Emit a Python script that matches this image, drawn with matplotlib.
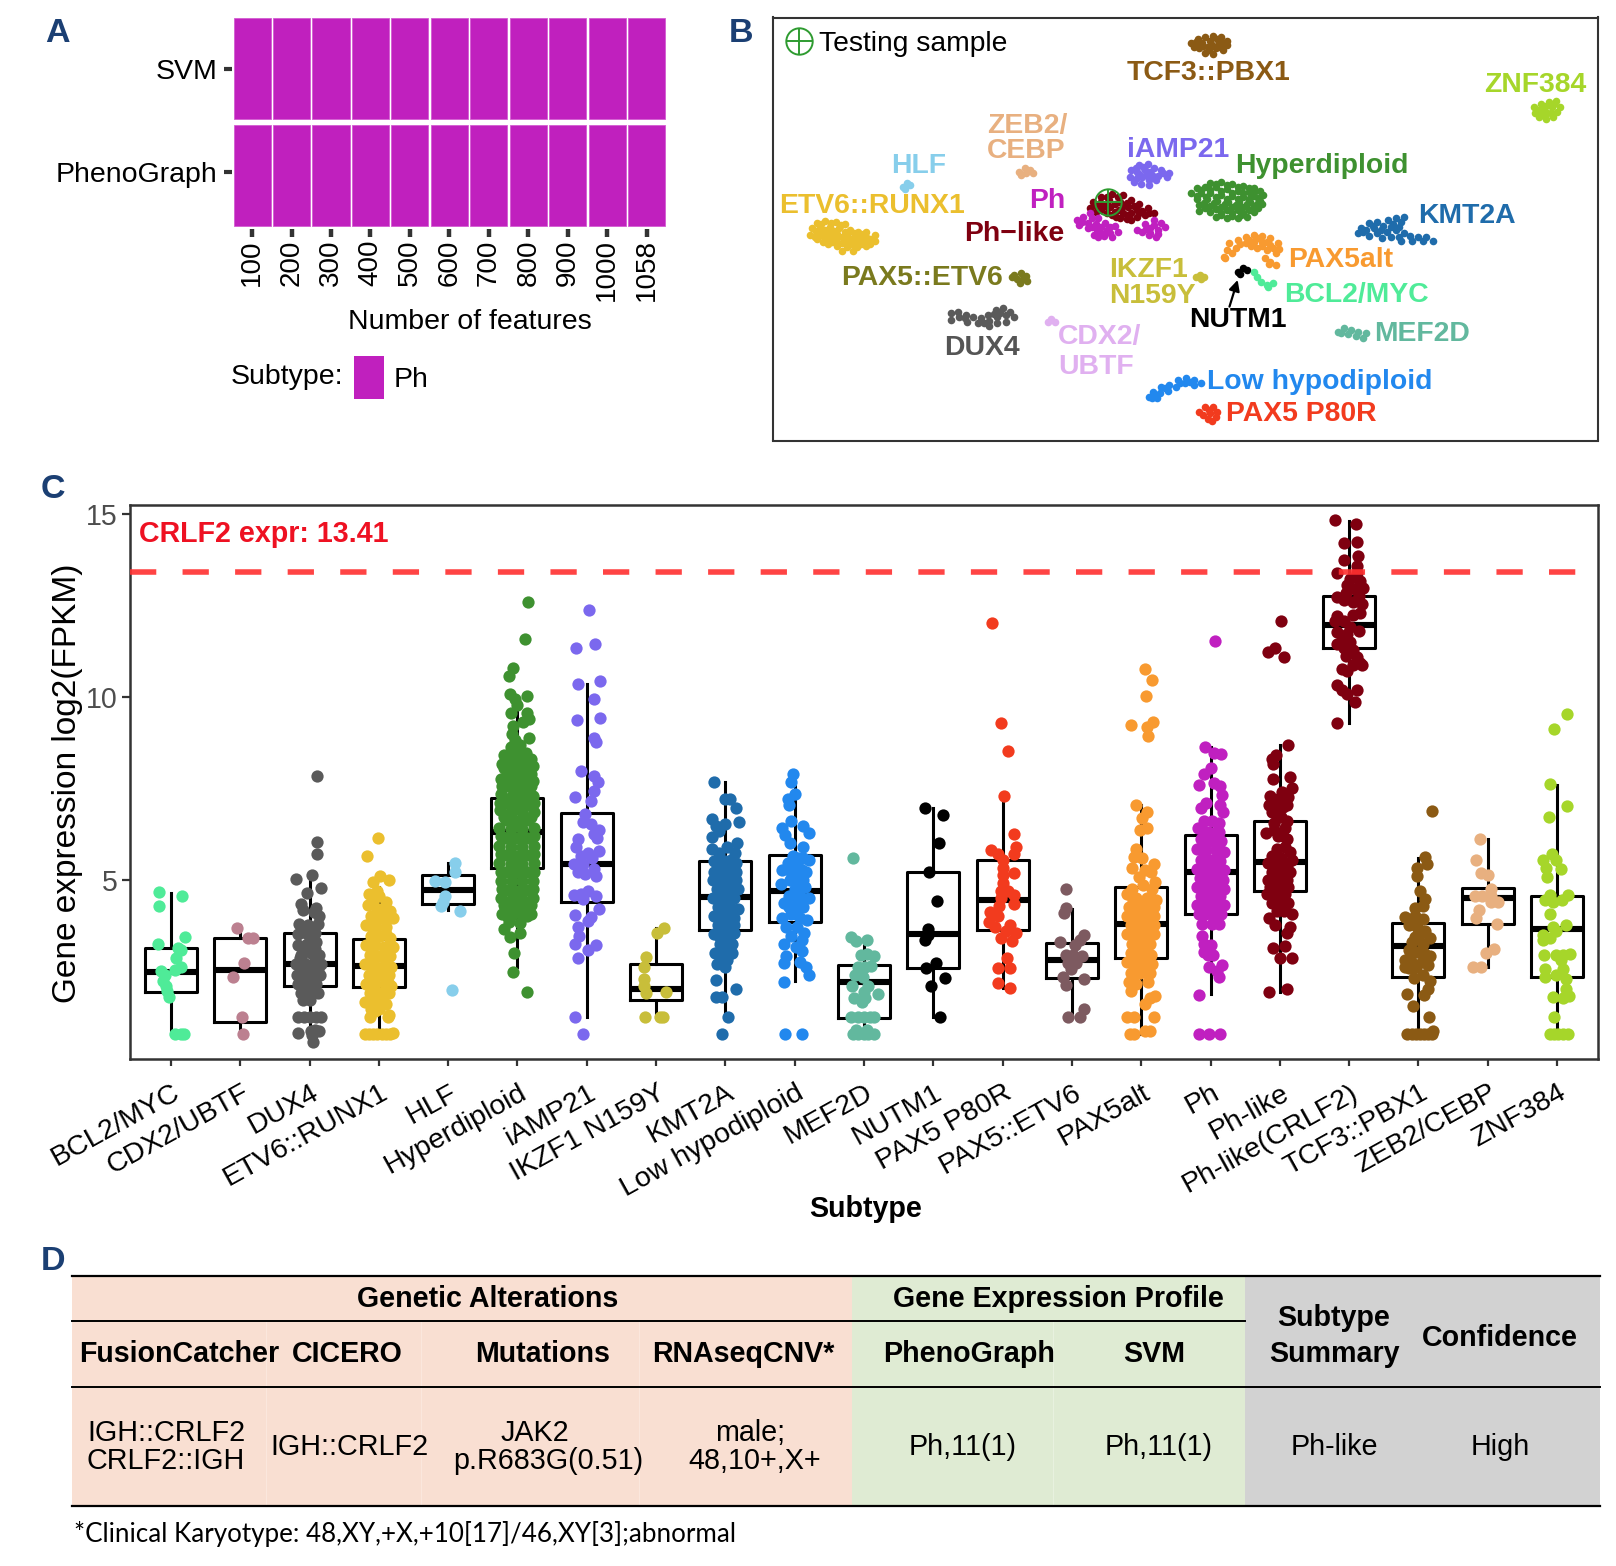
#!/usr/bin/env python3

"""
Four panel figure: classifier agreement tiles (A), t-SNE map of subtypes (B),
CRLF2 expression per subtype (C) and the summary table (D).
"""

import matplotlib
matplotlib.use("Agg")
import matplotlib.pyplot as plt
import numpy as np
from matplotlib.patches import Rectangle
from matplotlib.transforms import ScaledTranslation

plt.rcParams['font.family'] = ['Liberation Sans', 'DejaVu Sans']

W, H = 1616, 1566
PH = '#C020BE'
NAVY = '#1B3F73'

# ---- panel A
feature_counts = ['100', '200', '300', '400', '500', '600', '700', '800', '900', '1000', '1058']
methods = ['PhenoGraph', 'SVM']
called_subtype = 'Ph'

# ---- panel C
subtypes = ['BCL2/MYC', 'CDX2/UBTF', 'DUX4', 'ETV6::RUNX1', 'HLF', 'Hyperdiploid', 'iAMP21',
            'IKZF1 N159Y', 'KMT2A', 'Low hypodiploid', 'MEF2D', 'NUTM1', 'PAX5 P80R',
            'PAX5::ETV6', 'PAX5alt', 'Ph', 'Ph-like', 'Ph-like(CRLF2)', 'TCF3::PBX1',
            'ZEB2/CEBP', 'ZNF384']
subtype_colors = ['#4FEB98', '#BC8090', '#5A5A5A', '#EBBF2E', '#87CEEB', '#3E9130', '#7B68EE',
                  '#C8BE3A', '#1F6CAB', '#2288EE', '#62B89E', '#000000', '#F23B1E',
                  '#7D5A60', '#F89A30', '#C020C0', '#7F0010', '#7F0010', '#8B5A14',
                  '#E8B080', '#A6D62A']
box_q1 = [1.92, 1.11, 2.10, 2.07, 4.33, 5.32, 4.40, 1.72, 3.63, 3.85, 1.22, 2.57, 3.63, 2.30, 2.87, 4.05, 4.70, 11.33, 2.33, 3.80, 2.35]
box_med = [2.48, 2.54, 2.69, 2.65, 4.72, 6.31, 5.43, 2.00, 4.53, 4.68, 2.19, 3.51, 4.45, 2.81, 3.79, 5.20, 5.49, 11.97, 3.18, 4.49, 3.65]
box_q3 = [3.13, 3.41, 3.55, 3.38, 5.14, 7.24, 6.82, 2.69, 5.51, 5.67, 2.67, 5.21, 5.53, 3.26, 4.79, 6.21, 6.60, 12.76, 3.82, 4.76, 4.54]
whisker_low = [0.77, 0.77, 0.51, 0.77, 4.17, 2.60, 1.24, 1.24, 1.24, 2.22, 0.77, 1.24, 2.03, 1.24, 0.77, 1.87, 1.92, 9.28, 0.77, 2.60, 0.77]
whisker_high = [4.64, 3.75, 5.06, 4.80, 5.45, 9.60, 10.35, 3.67, 7.68, 7.57, 3.23, 6.97, 7.28, 4.20, 7.05, 8.64, 8.67, 14.82, 5.59, 6.11, 7.60]
sample_expr = 13.41

# jittered samples per subtype as (offset from category, log2 FPKM)
bcl2_pts = [(-.17,4.65),(.16,4.54),(-.17,4.29),(.2,3.43),(-.18,3.25),(.1,3.13),(.14,3.07),(.08,2.87),(.14,2.6),(.06,2.53),(-.14,2.5),(-.09,2.4),(-.11,2.24),(-.07,2.08),(-.05,1.96),(-.03,1.8),(.06,.77),(.14,.77),(.19,.77)]
cdx2_pts = [(-.05,3.67),(.11,3.41),(.19,3.41),(.05,2.73),(-.1,2.34),(.03,1.24),(.04,.77)]
dux4_pts = [(.11,7.83),(.11,6.03),(.11,5.69),(-.2,5.03),(.04,5.12),(-.04,4.63),(.17,4.76),(-.13,4.33),(-.1,4.17),(.1,4.22),(.14,4.0),(.06,4.12),
            (-.15,3.8),(-.02,3.75),(.12,3.8),(-.17,3.5),(-.05,3.55),(.08,3.55),(-.17,3.2),(-.03,3.25),(.1,3.3),(-.12,2.95),(.02,3.0),(.14,2.95),
            (-.2,2.7),(-.08,2.72),(.05,2.7),(.16,2.68),(-.18,2.4),(-.06,2.42),(.08,2.42),(.15,2.4),(-.16,2.15),(-.04,2.15),(.1,2.15),(-.12,1.9),(.02,1.95),(.12,1.9),(-.1,1.7),(.0,1.72),
            (-.16,1.24),(-.08,1.24),(.0,1.24),(.1,1.24),(.16,1.24),(-.16,.8),(.02,.85),(.08,.88),(.14,.85),(.05,.55),(.03,.75),
            (-.1,3.65),(.03,3.4),(-.1,3.1),(.08,3.1),(-.14,2.85),(.08,2.85),(-.02,2.55),(-.12,2.55),(.12,2.55),(-.1,2.28),(.03,2.28),(-.06,2.0),(.07,2.0)]
etv6_pts = [(-.01,6.15),(-.17,5.64),(.01,5.09),(.14,4.99),(-.09,4.93),(-.14,4.6),(.0,4.55),(-.03,4.7),(.1,4.4),(-.16,4.3),(-.02,4.2),(.16,4.15),
            (-.12,4.0),(.04,3.95),(.2,3.95),(-.18,3.75),(-.04,3.7),(.1,3.7),(-.12,3.45),(.02,3.45),(.16,3.4),(-.18,3.2),(-.06,3.2),(.08,3.15),(.2,3.15),
            (-.13,2.95),(.02,2.9),(.16,2.9),(-.2,2.7),(-.06,2.65),(.08,2.65),(.18,2.6),(-.14,2.4),(.0,2.4),(.14,2.4),(-.18,2.15),(-.05,2.15),(.09,2.15),(.18,2.1),
            (-.13,1.9),(.02,1.9),(.14,1.9),(-.2,1.65),(-.08,1.65),(.05,1.65),(-.12,1.45),(.0,1.45),(-.13,1.24),(.13,1.24),(.15,1.3),
            (-.2,.77),(-.14,.77),(-.08,.77),(-.02,.77),(.04,.77),(.1,.77),(.16,.77),(.2,.8),
            (-.08,4.35),(.05,4.2),(-.08,3.95),(.12,3.95),(-.1,3.7),(.1,3.5),(-.05,3.45),(-.12,3.2),(.14,3.2),(-.06,2.95),(.08,2.9),(-.12,2.65),(.12,2.65),(-.06,2.4),(.08,2.4),(-.12,2.15),(.14,2.15),(-.06,1.9),(.08,1.9),(-.14,1.65),(.0,1.65),(.1,1.6),(-.05,1.4)]
hlf_pts = [(.1,5.46),(.1,5.2),(-.19,4.96),(-.05,4.93),(-.05,4.54),(-.07,4.38),(-.1,4.28),(.17,4.14),(.05,1.98)]
hyper_pts = [(.15,12.6),(.11,11.57),(-.07,10.8),(-.12,10.58),(-.11,10.08),(.14,10.03),(-.04,9.95),(0,9.77),(-.09,9.56),(.14,9.56),(.17,9.38),(.08,9.3),(-.06,9.2),(-.08,8.98),(.17,8.88),(-.04,8.83),(.04,8.67),(-.09,8.62),
             (-.02,8.45),(.12,8.45),(-.16,8.35),(.2,8.3),(-.07,8.25),(.05,8.2),(-.22,8.15),(.16,8.1),(-.12,8.0),(0,7.95),(.2,7.9),(-.24,7.75),(-.08,7.75),(.07,7.75),(.22,7.7),(-.16,7.55),(.0,7.5),(.14,7.5),
             (-.24,7.35),(-.08,7.3),(.07,7.3),(.22,7.3),(-.17,7.1),(-.01,7.05),(.14,7.05),(-.25,6.9),(-.09,6.85),(.06,6.85),(.24,6.85),(-.17,6.62),(0,6.6),(.15,6.62),(-.26,6.4),(-.09,6.38),(.07,6.38),(.24,6.4),
             (-.18,6.15),(-.01,6.15),(.15,6.15),(-.26,5.92),(-.09,5.9),(.07,5.9),(.24,5.92),(-.17,5.68),(0,5.65),(.16,5.68),(-.26,5.45),(-.09,5.42),(.07,5.42),(.24,5.45),(-.17,5.2),(0,5.2),(.15,5.2),
             (-.24,4.97),(-.08,4.95),(.07,4.95),(.22,4.97),(-.16,4.72),(0,4.7),(.14,4.72),(-.24,4.5),(-.08,4.48),(.07,4.48),(.22,4.5),(-.18,4.25),(-.01,4.25),(.13,4.25),(-.22,4.05),(-.08,4.03),(.06,4.03),(.2,4.05),(-.12,3.85),(.03,3.82),
             (-.19,3.65),(.04,3.55),(-.11,3.44),(-.05,2.99),(-.07,2.48),(.14,1.93),
             (-.2,8.4),(.02,8.6),(-.12,8.4),(.1,8.3),(-.2,8.05),(.08,8.0),(-.03,8.1),(.22,8.1),(-.15,7.85),(.12,7.8),(-.02,7.75),(-.22,7.55),(.2,7.55),(.07,7.55),(-.1,7.55),(-.2,7.2),(.15,7.25),(-.02,7.3),(-.25,7.1),(.24,7.1),(-.1,7.05),(.07,7.05),(-.2,6.7),(.2,6.7),(-.08,6.65),(.08,6.65),(-.24,6.2),(.24,6.2),(-.09,6.15),(.07,6.15),(-.24,5.7),(.24,5.7),(-.09,5.65),(.08,5.65),(-.24,5.2),(.24,5.2),(-.09,5.2),(.08,5.2),(-.22,4.75),(.22,4.75),(-.08,4.72),(.07,4.72),(-.2,4.3),(.2,4.3),(-.08,4.25),(.06,4.25),(-.15,4.0),(.14,4.0)]
iamp21_pts = [(.03,12.38),(-.16,11.33),(.12,11.45),(-.12,10.35),(.19,10.44),(.11,9.93),(-.14,9.37),(.19,9.42),(.11,8.88),(.14,8.77),(-.08,7.96),(.1,7.83),(.16,7.68),(.1,7.42),(.06,7.15),(-.17,7.26),(-.02,6.79),(-.05,6.58),(.06,6.53),(.17,6.37),(.1,6.26),(.15,6.15),(-.13,6.1),(-.15,5.9),(.17,5.79),(.02,5.74),(-.09,5.64),(.08,5.58),(-.18,5.43),(-.05,5.43),(.1,5.3),(-.13,5.2),(-.02,5.15),(.14,5.1),(-.18,4.57),(-.09,4.6),(.02,4.7),(.14,4.55),(-.05,4.46),(-.17,4.03),(.06,3.98),(.17,4.2),(.02,3.87),(-.13,3.7),(-.11,3.45),(-.17,3.25),(.14,3.2),(.02,3.07),(-.13,2.87),(-.17,1.24),(-.05,.77)]
ikzf1_pts = [(.12,3.68),(.01,3.53),(-.14,2.88),(-.17,2.6),(-.18,2.29),(-.17,2.08),(-.14,1.9),(.14,1.93),(-.16,1.24),(.06,1.24),(.1,1.24)]
kmt2a_pts = [(-.17,7.68),(0,7.2),(.06,7.2),(.15,6.95),(-.2,6.65),(.19,6.58),(0,6.53),(-.14,6.47),(-.2,6.16),(.17,6.0),(-.09,6.32),(-.19,5.85),(.14,5.74),(-.09,5.74),(.02,5.9),
             (-.17,5.5),(.0,5.5),(.16,5.45),(-.09,5.25),(.08,5.25),(-.18,5.0),(-.02,5.0),(.16,5.0),(-.12,4.75),(.05,4.75),(.18,4.75),(-.18,4.5),(-.03,4.5),(.12,4.5),(-.11,4.25),(.04,4.25),(.18,4.2),(-.17,4.0),(-.03,4.0),(.12,3.95),(-.1,3.75),(.05,3.75),(-.17,3.5),(.0,3.5),(.12,3.55),(-.08,3.25),(.06,3.25),(-.15,3.0),(-.03,3.0),(.1,3.0),(-.07,2.75),(.02,2.8),
             (-.14,2.26),(.15,2.02),(-.13,1.79),(-.05,1.79),(.04,1.24),(-.05,.77),
             (-.08,5.5),(.08,5.55),(-.16,5.2),(.0,5.2),(.15,5.2),(-.08,4.95),(.08,4.95),(-.02,4.7),(.12,4.7),(-.1,4.45),(.05,4.45),(-.04,4.2),(.1,4.2),(-.1,4.0),(.04,3.95),(-.02,3.7),(.12,3.75),(-.09,3.45),(.06,3.45),(-.02,3.2),(.1,3.25),(-.1,3.0),(.04,2.95),(-.12,2.7),(-.01,2.6)]
low_pts = [(-.03,7.88),(-.05,7.68),(.01,7.33),(-.09,7.2),(-.08,7.04),(-.05,6.6),(.12,6.47),(.2,6.27),(-.18,6.42),(-.14,6.21),(-.07,6.0),(.12,5.9),
           (-.02,5.65),(.12,5.6),(.2,5.55),(-.1,5.45),(.04,5.4),(-.18,5.25),(.0,5.2),(.16,5.2),(-.07,5.0),(.08,5.0),(-.2,4.87),(.0,4.75),(.15,4.8),(-.08,4.55),(.06,4.55),(.2,4.5),(-.15,4.35),(.02,4.3),(.12,4.25),(-.18,3.95),(-.05,4.05),(.08,3.95),(.18,3.9),(-.12,3.7),(.03,3.7),(.14,3.55),(-.05,3.45),(.1,3.35),(-.15,3.25),(.02,3.15),(.1,3.05),
           (-.16,2.21),(.2,2.4),(-.16,2.71),(-.12,2.92),(.08,2.76),(.16,2.6),(-.14,.77),(.11,.77),
           (.05,5.6),(.1,5.25),(-.06,5.2),(.03,5.0),(.12,5.0),(.05,4.8),(.02,4.55),(.1,4.5),(.05,4.25),(-.08,4.25),(.02,4.05)]
mef2d_pts = [(-.16,5.6),(-.19,3.42),(-.11,3.32),(.04,3.34),(-.05,2.94),(.14,2.9),(.05,2.97),(-.09,2.6),(.02,2.6),(.1,2.65),(-.13,2.4),(-.02,2.34),(-.17,2.1),(.06,2.08),(0,1.92),(.2,1.87),(-.15,1.75),(.02,1.77),(-.03,1.66),(-.19,1.24),(-.09,1.24),(0,1.24),(.08,1.24),(.15,1.24),(-.16,.77),(-.08,.77),(0,.77),(.06,.77),(.14,.77),(-.12,.88),(.04,.88)]
nutm1_pts = [(-.12,6.97),(.14,6.76),(.08,6.0),(-.06,5.2),(.06,4.41),(-.07,3.65),(-.07,3.49),(-.12,3.36),(.04,2.71),(-.11,2.58),(.17,2.32),(-.04,2.08),(.09,1.24)]
p80r_pts = [(-.15,12.03),(-.02,9.28),(.08,8.53),(.02,7.28),(.16,6.24),(.19,5.9),(.17,5.69),(-.17,5.82),(-.07,5.69),(0,5.53),(.01,5.32),(.16,5.17),(0,5.12),(.01,4.91),(-.03,4.7),(.08,4.7),(.17,4.59),(-.03,4.49),(.17,4.33),(-.05,4.28),(-.18,4.12),(-.07,4.01),(-.2,3.85),(-.11,3.7),(.11,3.75),(.05,3.6),(.2,3.55),(-.03,3.39),(.14,3.32),(.06,2.86),(-.07,2.58),(.1,2.58),(-.07,2.17),(.11,2.03)]
etv6_pax5_pts = [(-.08,4.75),(-.09,4.23),(-.11,4.09),(.17,3.49),(.12,3.34),(-.17,3.29),(.05,3.2),(-.09,2.95),(.02,2.95),(.15,2.92),(-.05,2.71),(.06,2.71),(-.02,2.55),(-.13,2.34),(.17,2.29),(-.09,2.13),(-.05,1.24),(.17,1.45),(.12,1.24)]
pax5alt_pts = [(.05,10.75),(.15,10.46),(.07,10.02),(.17,9.32),(-.15,9.22),(.08,9.17),(.1,8.93),(-.07,7.03),(.09,6.84),(.01,6.68),(-.02,6.37),(.08,6.42),(-.07,5.84),(-.11,5.63),(.01,5.58),(.18,5.42),(-.14,5.32),(.05,5.27),(.14,5.22),(-.03,5.06),(.2,4.93),(-.14,4.75),
               (.02,4.85),(.15,4.75),(-.2,4.6),(-.07,4.5),(.08,4.5),(.22,4.45),(-.18,4.25),(-.03,4.25),(.12,4.25),(-.2,4.0),(-.08,4.0),(.05,4.0),(.18,4.0),(-.15,3.75),(.0,3.75),(.13,3.75),(-.2,3.5),(-.07,3.5),(.08,3.5),(.18,3.5),(-.14,3.25),(.0,3.25),(.13,3.25),
               (-.15,3.0),(-.04,3.0),(.08,3.0),(-.2,2.75),(-.08,2.75),(.05,2.7),(.16,2.7),(-.15,2.45),(-.02,2.45),(.12,2.45),(-.18,2.2),(-.08,2.15),(.1,2.2),(-.15,1.95),(.2,1.82),(.06,1.61),(.12,1.75),(-.2,1.24),(-.11,1.24),(.18,1.24),(-.16,.77),(-.11,.77),(.05,.85),(.12,.85),
               (-.12,4.45),(.0,4.4),(.14,4.5),(-.1,4.2),(.05,4.2),(.18,4.25),(-.14,3.95),(.0,3.95),(.12,4.0),(-.08,3.75),(.07,3.75),(.18,3.75),(-.14,3.5),(.0,3.5),(.13,3.5),(-.07,3.25),(.07,3.25),(-.1,3.0),(.02,3.0),(.14,2.95),(-.13,2.75),(.0,2.7),(.1,2.45),(-.08,2.45)]
ph_pts = [(.07,11.54),(-.08,8.64),(.05,8.46),(.15,8.44),(0,8.04),(-.1,7.89),(-.16,7.6),(.05,7.63),(.13,7.57),(.17,7.31),(-.06,7.1),(-.14,6.95),(.13,7.05),(.18,6.84),
          (-.1,6.6),(.02,6.6),(.12,6.55),(-.18,6.4),(-.04,6.3),(.08,6.3),(-.14,6.1),(.0,6.05),(.15,6.05),(-.2,5.85),(-.06,5.8),(.08,5.8),(.2,5.75),(-.14,5.55),(.0,5.55),(.14,5.5),(-.2,5.3),(-.07,5.3),(.07,5.3),(.2,5.25),(-.15,5.05),(-.02,5.05),(.12,5.05),(-.19,4.8),(-.07,4.8),(.06,4.8),(.19,4.75),(-.14,4.55),(.0,4.55),(.14,4.55),(-.2,4.3),(-.06,4.3),(.07,4.3),(.2,4.3),(-.16,4.05),(.0,4.05),(.15,4.05),(-.12,3.8),(.02,3.8),(.12,3.8),
          (-.12,3.45),(-.1,3.25),(.0,3.2),(-.1,3.02),(-.04,2.95),(.04,2.95),(.17,2.66),(-.02,2.6),(.09,2.5),(.12,2.35),(-.16,1.85),(-.17,.77),(-.02,.77),(.14,.77),
          (-.1,6.3),(.12,6.3),(-.08,6.05),(.07,6.05),(-.13,5.8),(.14,5.8),(-.07,5.55),(.07,5.55),(-.13,5.3),(.0,5.3),(.14,5.3),(-.08,5.05),(.05,5.05),(.18,5.0),(-.13,4.8),(.0,4.8),(.12,4.8),(-.07,4.55),(.07,4.55),(-.12,4.3),(.0,4.3),(.14,4.3),(-.08,4.05),(.08,4.05)]
phlike_pts = [(.02,12.06),(-.07,11.33),(-.17,11.22),(.06,11.08),(.12,8.67),(-.05,8.41),(-.12,8.31),(-.1,8.17),(.14,7.8),(-.1,7.75),(.18,7.5),(.03,7.4),(-.14,7.3),(.12,7.25),(-.06,7.15),(-.16,7.05),(.05,7.0),(-.12,6.85),(.02,6.7),(-.08,6.55),(.08,6.4),(-.2,6.27),(-.02,6.2),(.1,6.1),
              (.08,5.9),(-.04,5.85),(.14,5.75),(-.12,5.65),(.02,5.6),(.18,5.55),(-.17,5.45),(-.05,5.4),(.1,5.4),(-.12,5.2),(.02,5.2),(.15,5.2),(-.17,5.0),(-.04,5.0),(.1,5.0),(-.14,4.8),(.0,4.8),(.12,4.8),(-.18,4.6),(-.05,4.6),(.08,4.6),(-.12,4.35),(.02,4.35),(.12,4.35),(-.04,4.15),(.06,4.15),
              (-.16,3.96),(.18,4.07),(-.07,3.75),(.14,3.7),(.1,3.55),(-.1,3.13),(.08,3.18),(.18,2.85),(0,2.87),(-.16,1.93),(.1,2.0),
              (-.02,7.2),(.1,7.05),(-.1,7.0),(-.04,6.8),(.1,6.6),(-.08,6.35),(.05,6.2)]
crlf2_pts = [(-.2,14.83),(.1,14.74),(.12,14.24),(-.07,14.2),(.13,13.85),(-.08,13.75),(.12,13.59),(-.18,13.4),(.11,13.4),(.01,13.22),(.16,13.17),(-.03,13.06),(.2,12.98),(.08,12.94),(-.18,12.73),(-.05,12.83),(.14,12.75),(.05,12.59),(.18,12.54),(-.07,12.65),(.16,12.3),(-.18,12.2),(.05,12.23),(-.07,12.07),(-.2,12.07),(.01,11.92),(.14,11.81),(-.17,11.76),(-.03,11.71),(-.11,11.55),(.01,11.5),(-.18,11.45),(-.07,11.34),(.05,11.29),(-.05,11.13),(.11,11.08),(.16,10.92),(.05,10.87),(-.11,10.76),(.18,10.87),(-.03,10.71),(-.18,10.31),(-.11,10.19),(.11,10.19),(-.03,10.08),(.08,9.87),(-.17,9.28)]
tcf3_pts = [(.2,6.87),(.1,5.61),(.12,5.44),(-.02,5.33),(-.02,5.1),(.02,4.69),(.1,4.48),(.06,4.27),(-.05,4.22),(-.19,3.98),(-.05,4.01),(.06,3.91),(-.13,3.75),(-.02,3.7),(.1,3.6),(.17,3.39),(-.05,3.44),(.06,3.24),(-.13,3.08),(-.02,3.02),(.17,2.92),(-.2,2.81),(-.09,2.71),(-.2,2.6),(.14,2.66),(-.13,2.57),(.06,2.4),(.17,2.24),(-.07,2.31),(.14,2.0),(-.17,1.87),(.08,1.85),(-.08,1.54),(.15,1.24),(-.17,.77),(-.1,.77),(-.04,.77),(.02,.77),(.08,.77),(.14,.77),(.2,.77),(.21,.85),
            (-.1,3.9),(.02,3.5),(-.1,3.3),(.08,3.0),(-.12,2.85),(.05,2.75),(-.04,2.6)]
zeb2_pts = [(-.11,6.1),(-.17,5.53),(-.1,5.17),(0,5.12),(.04,4.75),(-.19,4.54),(-.08,4.54),(.05,4.54),(.15,4.38),(.04,4.38),(-.13,4.17),(-.17,3.94),(.14,3.8),(.09,3.1),(-.03,3.0),(-.21,2.6),(-.1,2.6)]
znf384_pts = [(.14,9.53),(-.04,9.11),(-.1,7.62),(.14,7.02),(-.12,6.7),(-.08,5.71),(-.2,5.53),(-.02,5.53),(-.16,5.32),(.05,5.3),(-.14,5.06),(-.1,4.59),(.15,4.59),(.07,4.43),(-.17,4.43),(-.06,4.38),(-.1,4.07),(.13,3.75),(-.06,3.7),(-.2,3.49),(-.1,3.39),(-.02,3.6),(-.21,3.34),(-.19,2.94),(-.02,2.94),(.09,2.94),(.19,2.97),(.05,2.81),(-.17,2.55),(.09,2.55),(-.02,2.4),(.13,2.29),(-.17,2.35),(.13,2.0),(-.06,1.79),(.09,1.77),(.17,1.82),(-.04,1.24),(-.1,.77),(-.04,.77),(.02,.77),(.08,.77),(.15,.77)]
expr_points = [bcl2_pts, cdx2_pts, dux4_pts, etv6_pts, hlf_pts, hyper_pts, iamp21_pts, ikzf1_pts, kmt2a_pts, low_pts, mef2d_pts, nutm1_pts, p80r_pts, etv6_pax5_pts, pax5alt_pts, ph_pts, phlike_pts, crlf2_pts, tcf3_pts, zeb2_pts, znf384_pts]

# ---- panel B, t-SNE coordinates in arbitrary units
tsne_tcf3 = [(790,128),(803,118),(815,110),(830,108),(845,112),(856,122),(795,140),(810,128),(825,122),(840,128),(855,135),(805,145),(820,140),(835,145),(848,150),(815,158),(830,162),(822,150),(798,125),(838,118),(850,128),(828,135),(812,138),(842,140)]
tsne_znf384 = [(1418,320),(1430,312),(1445,305),(1458,302),(1465,320),(1450,322),(1435,328),(1420,340),(1432,345),(1448,340),(1460,335),(1427,352),(1440,358),(1452,350),(1440,318),(1455,312),(1425,330),(1442,338)]
tsne_zeb2 = [(475,515),(485,505),(495,510),(500,520),(488,520),(478,525)]
tsne_iamp21 = [(680,510),(695,495),(710,492),(722,505),(735,510),(750,520),(745,530),(678,530),(690,515),(705,510),(718,525),(730,528),(685,545),(700,530),(712,540),(725,540),(698,552),(712,555),(690,535),(702,502),(688,503),(715,515),(695,522),(708,525),(738,520)]
tsne_hlf = [(262,560),(270,550),(275,555),(265,567)]
tsne_hyper = [(825,548),(845,545),(865,552),(885,558),(905,565),(800,565),(815,562),(835,562),(855,568),(875,572),(895,575),(915,572),(790,578),(808,580),(825,580),(845,585),(865,588),(885,590),(905,588),(922,585),
              (800,598),(818,598),(838,602),(858,605),(878,605),(898,605),(915,602),(805,615),(825,618),(845,620),(865,622),(885,622),(905,620),(920,612),(805,632),(825,635),(845,638),(865,640),(885,638),(905,635),(835,650),(855,655),(875,655),(892,650),
              (835,552),(855,556),(875,562),(895,565),(808,570),(825,570),(845,574),(865,578),(885,580),(905,577),(800,588),(817,590),(835,592),(855,596),(875,596),(895,597),(912,595),(813,608),(832,610),(852,612),(872,614),(892,613),(910,612),(815,625),(835,628),(855,630),(875,630),(895,630),(912,625),(845,645),(865,648),(882,646)]
tsne_ph = [(580,660),(592,650),(605,640),(620,655),(585,675),(600,668),(615,672),(632,668),(650,678),(600,685),(618,690),(635,690),(655,695),(612,705),(630,708),(645,712),(690,690),(705,672),(722,660),(735,668),(742,680),(700,695),(715,685),(730,690),(712,705),(725,712),
           (590,665),(608,655),(608,680),(625,680),(642,680),(625,698),(642,700),(620,712),(708,688),(722,675),(715,698),(730,702)]
tsne_phlike = [(610,605),(625,590),(645,582),(665,585),(680,600),(695,612),(710,625),(722,640),(605,625),(622,610),(640,600),(660,605),(675,620),(690,630),(705,645),(625,630),(642,622),(658,630),(672,645),(645,645),(660,655),(690,650),(680,660),(665,640),
               (635,592),(655,592),(672,610),(685,618),(700,632),(615,618),(632,618),(650,612),(665,618),(615,635),(635,638),(650,635),(680,640),(695,640),(712,638),(652,650),(672,658)]
tsne_etv6 = [(105,668),(120,662),(140,665),(155,672),(95,685),(110,682),(128,680),(145,685),(165,690),(180,695),(195,695),(92,705),(108,700),(125,698),(142,702),(160,705),(178,710),(195,710),(210,705),(105,718),(122,715),(140,720),(158,722),(175,725),(192,725),(210,722),(125,732),(142,738),(160,740),(178,740),(195,738),(150,752),(170,752),
             (112,672),(130,670),(148,675),(102,692),(120,690),(136,692),(155,695),(172,700),(188,702),(100,710),(116,708),(134,710),(150,712),(168,716),(185,718),(202,716),(115,725),(132,726),(150,730),(168,732),(185,732),(202,732)]
tsne_kmt2a = [(1100,685),(1115,670),(1130,665),(1150,660),(1165,655),(1180,650),(1095,700),(1110,690),(1125,685),(1142,678),(1160,672),(1175,665),(1115,708),(1130,700),(1148,695),(1165,690),(1180,700),(1140,715),(1155,710),(1170,712),(1190,708),(1205,710),(1220,712),(1232,722),(1215,722),(1195,722),(1175,722),(1105,695),(1122,677),(1138,690),(1155,682),(1170,680)]
tsne_pax5alt = [(850,770),(855,750),(860,730),(875,720),(890,712),(905,705),(920,708),(935,715),(948,730),(950,748),(935,735),(920,725),(905,725),(890,730),(910,745),(928,750),(945,758),(872,745),(852,775),(925,775),(935,785),(945,795),(932,792),(880,732),(895,720),(912,715),(928,725),(940,745),(920,738),(900,738),(865,760)]
tsne_ikzf1 = [(798,830),(806,825),(814,830),(808,838)]
tsne_nutm1 = [(876,815),(885,805),(892,810),(880,822)]
tsne_bcl2 = [(905,815),(910,830),(918,845),(928,855),(940,850),(930,862)]
tsne_etv6_pax5 = [(465,825),(478,820),(488,828),(470,838),(482,838),(490,842),(477,850),(462,832)]
tsne_dux4 = [(350,940),(362,935),(350,960),(365,950),(378,945),(390,950),(405,955),(418,945),(432,930),(445,925),(458,935),(465,950),(450,945),(435,950),(420,962),(435,968),(450,965),(420,978),(380,965),(400,970),(375,955),(440,938),(428,942),(410,968)]
tsne_cdx2 = [(527,965),(533,958),(540,965)]
tsne_mef2d = [(1058,995),(1070,985),(1082,990),(1095,995),(1110,1000),(1065,1000),(1078,1003),(1092,1008),(1105,1015)]
tsne_low = [(712,1190),(720,1175),(735,1160),(750,1155),(765,1140),(780,1135),(795,1140),(808,1150),(718,1195),(732,1180),(748,1172),(762,1160),(778,1150),(795,1155),(728,1195),(725,1185),(742,1165),(770,1150),(788,1145)]
tsne_p80r = [(805,1235),(815,1222),(830,1220),(838,1235),(812,1245),(825,1240),(835,1250),(820,1258),(828,1262),(822,1230)]
tsne_clusters = [tsne_tcf3, tsne_znf384, tsne_zeb2, tsne_iamp21, tsne_hlf, tsne_hyper, tsne_phlike, tsne_ph, tsne_etv6, tsne_kmt2a, tsne_pax5alt, tsne_ikzf1, tsne_nutm1, tsne_bcl2, tsne_etv6_pax5, tsne_dux4, tsne_cdx2, tsne_mef2d, tsne_low, tsne_p80r]
tsne_colors = ['#8B5A14', '#A6D62A', '#E8B080', '#7B68EE', '#87CEEB', '#3E9130', '#7F0010', '#C020C0', '#EBBF2E', '#1F6CAB', '#F89A30', '#C8BE3A', '#000000', '#4FEB98', '#7A7A1E', '#5A5A5A', '#E0B0F0', '#62B89E', '#2288EE', '#F23B1E']
testing_sample = (638, 605)

# ---- panel D
header_top = ['Genetic Alterations', 'Gene Expression Profile']
header_cols = ['FusionCatcher', 'CICERO', 'Mutations', 'RNAseqCNV*', 'PhenoGraph', 'SVM']
row_values = ['IGH::CRLF2\nCRLF2::IGH', 'IGH::CRLF2', 'Ph,11(1)', 'Ph,11(1)', 'Ph-like', 'High']
footnote = '*Clinical Karyotype: 48,XY,+X,+10[17]/46,XY[3];abnormal'


def px_axes(fig, left, top, right, bottom):
    return fig.add_axes([left / W, 1 - bottom / H, (right - left) / W, (bottom - top) / H])


fig = plt.figure(figsize=(W / 100, H / 100), dpi=100)

# page layer, pixel coordinates for the free standing pieces
page = fig.add_axes([0, 0, 1, 1])
page.set_xlim(0, W)
page.set_ylim(H, 0)
page.axis('off')

for letter, x, y in [('A', 45, 34), ('B', 729, 34), ('C', 41, 490), ('D', 41, 1261)]:
    page.text(x, y, letter, color=NAVY, fontsize=24.5, fontweight='bold', va='center', ha='left')

# A
ax = px_axes(fig, 232.4, 15.5, 666.4, 228.8)
xs = np.arange(1, len(feature_counts) + 1)
for row in range(1, len(methods) + 1):
    ax.bar(xs, [0.95] * len(xs), bottom=row - 0.475, width=0.94, color=PH, edgecolor='#D45CD2', linewidth=0.6)
ax.set_xlim(0.5, 11.5)
ax.set_ylim(0.5, 2.5)
ax.set_xticks(xs)
ax.set_xticklabels(feature_counts, rotation=90, fontsize=20, color='black')
ax.set_yticks([1.03, 2])
ax.set_yticklabels(methods, fontsize=20.5, color='black')
ax.tick_params(axis='x', length=5.5, width=3.2, color='#333333', pad=2)
ax.tick_params(axis='y', length=6, width=3, color='#333333', pad=5)
for spine in ax.spines.values():
    spine.set_visible(False)
page.text(470, 322, 'Number of features', fontsize=20.5, ha='center', va='center')
page.text(231, 377, 'Subtype:', fontsize=20.5, ha='left', va='center')
page.add_patch(Rectangle((354, 356), 30, 43, facecolor=PH, edgecolor='none'))
page.text(393.5, 380, called_subtype, fontsize=20.5, ha='left', va='center')

# B
ax = px_axes(fig, 772.5, 17.5, 1598, 440.5)
for cluster, color in zip(tsne_clusters, tsne_colors):
    pts = np.array(cluster)
    ax.scatter(pts[:, 0], pts[:, 1], s=30, color=color, linewidths=0)
ax.set_xlim(23, 1535)
ax.set_ylim(1322, 52)
ax.set_xticks([])
ax.set_yticks([])
for spine in ax.spines.values():
    spine.set_linewidth(1.5)
    spine.set_color('#333333')
ax.plot(*testing_sample, marker='o', ms=19, mfc='none', mec='#2E9B30', mew=1.4)
ax.plot(*testing_sample, marker='+', ms=19, mec='#2E9B30', mew=1.4)
ax.plot(71, 122, marker='o', ms=19, mfc='none', mec='#2E9B30', mew=1.4)
ax.plot(71, 122, marker='+', ms=19, mec='#2E9B30', mew=1.4)
ax.text(108, 131, 'Testing sample', fontsize=20.3, va='center', ha='left')
ax.annotate('', xy=(875, 840), xytext=(860, 920),
            arrowprops=dict(arrowstyle='-|>', color='black', lw=1.6, mutation_scale=16, shrinkA=0, shrinkB=0))

tsne_labels = [('TCF3::PBX1', 822, 219, '#8B5A14', 1.0),
               ('ZNF384', 1420, 254, '#A6D62A', 1.0),
               ('ZEB2/\nCEBP', 490, 416, '#E8B080', 0.95),
               ('iAMP21', 766, 449, '#7B68EE', 1.0),
               ('Hyperdiploid', 1030, 499, '#3E9130', 1.0),
               ('HLF', 291, 498, '#87CEEB', 1.0),
               ('Ph', 526, 604, '#C020C0', 1.0),
               ('ETV6::RUNX1', 206, 619, '#EBBF2E', 1.0),
               ('Ph\u2212like', 466, 701, '#7F0010', 1.0),
               ('KMT2A', 1295, 648, '#1F6CAB', 1.0),
               ('PAX5alt', 1063, 781, '#F89A30', 1.0),
               ('IKZF1\nN159Y', 718, 848, '#C8BE3A', 1.0),
               ('PAX5::ETV6', 297, 834, '#7A7A1E', 1.0),
               ('BCL2/MYC', 1092, 884, '#4FEB98', 1.0),
               ('NUTM1', 875, 961, '#000000', 1.0),
               ('MEF2D', 1213, 1001, '#62B89E', 1.0),
               ('DUX4', 407, 1043, '#555555', 1.0),
               ('CDX2/\nUBTF', 622, 1056, '#E0B0F0', 1.23),
               ('Low hypodiploid', 1025, 1146, '#2288EE', 1.0),
               ('PAX5 P80R', 992, 1241, '#F23B1E', 1.0)]
for label, x, y, color, spacing in tsne_labels:
    ax.text(x, y, label, color=color, fontsize=20.4, fontweight='bold', ha='center', va='center',
            multialignment='left', linespacing=spacing)

# C
ax = px_axes(fig, 130, 504.5, 1598, 1059)
positions = np.arange(1, len(subtypes) + 1)
stats = [dict(q1=a, med=b, q3=c, whislo=d, whishi=e, fliers=[])
         for a, b, c, d, e in zip(box_q1, box_med, box_q3, whisker_low, whisker_high)]
ax.bxp(stats, positions=positions, widths=0.75, showcaps=False, showfliers=False, manage_ticks=False,
       boxprops=dict(color='black', linewidth=2.2),
       whiskerprops=dict(color='black', linewidth=2.2),
       medianprops=dict(color='black', linewidth=4.4, solid_capstyle='butt'))
for pos, pts, color in zip(positions, expr_points, subtype_colors):
    pts = np.array(pts)
    ax.scatter(pos + pts[:, 0], pts[:, 1], s=78, color=color, linewidths=0, zorder=3)
ax.axhline(sample_expr, color='#FF3030', alpha=0.9, linewidth=4.0, linestyle=(0, (4.73, 4.73)), dash_capstyle='butt', zorder=4)
ax.text(0.545, 14.44, 'CRLF2 expr: %.2f' % sample_expr, color='#EE1122', fontsize=20.6, fontweight='bold', ha='left', va='center')
ax.set_xlim(0.41, 21.59)
ax.set_ylim(0.094, 15.26)
ax.set_yticks([5, 10, 15])
ax.tick_params(axis='y', length=6, width=1.6, color='#333333', labelcolor='#4D4D4D', labelsize=20.6, pad=3)
ax.set_xticks(positions)
ax.set_xticklabels(subtypes, rotation=29, ha='right', va='top', rotation_mode='anchor', fontsize=20.5, color='black')
ax.tick_params(axis='x', length=5, width=1.6, color='#333333', pad=10)
shift = ScaledTranslation(1 / 100, 0, fig.dpi_scale_trans)
for label in ax.get_xticklabels():
    label.set_transform(label.get_transform() + shift)
for spine in ax.spines.values():
    spine.set_linewidth(1.8)
    spine.set_color('#333333')
page.text(68, 783, 'Gene expression log2(FPKM)', fontsize=24, rotation=90, ha='center', va='center')
page.text(866, 1209, 'Subtype', fontsize=20.6, fontweight='bold', ha='center', va='center')

# D
page.add_patch(Rectangle((72, 1276), 780, 230, facecolor='#F9DFD2', edgecolor='none'))
page.add_patch(Rectangle((852, 1276), 393, 230, facecolor='#DFEBD3', edgecolor='none'))
page.add_patch(Rectangle((1245, 1276), 355, 230, facecolor='#D2D2D2', edgecolor='none'))
for x, color in [(266, '#FBE7DD'), (421, '#FBE7DD'), (639, '#FBE7DD'), (1053, '#E8F1DF')]:
    page.plot([x, x], [1322, 1506], color=color, lw=0.8)
page.plot([72, 1600], [1276, 1276], color='black', lw=1.6)
page.plot([72, 1245], [1321, 1321], color='black', lw=1.4)
page.plot([72, 1600], [1387, 1387], color='black', lw=1.4)
page.plot([72, 1600], [1506, 1506], color='black', lw=1.6)

head_kw = dict(fontsize=20.6, fontweight='bold', ha='center', va='center')
body_kw = dict(fontsize=20.7, ha='center', va='center')
page.text(488, 1299, header_top[0], **head_kw)
page.text(1058, 1299, header_top[1], **head_kw)
page.text(1334, 1336, 'Subtype\nSummary', linespacing=1.4, **head_kw)
page.text(1500, 1338, 'Confidence', **head_kw)
for label, x in zip(header_cols, [179, 347, 543, 743, 969, 1154]):
    page.text(x, 1354, label, **head_kw)
for label, x in zip(row_values, [166, 349.5, 963, 1159, 1334, 1500]):
    page.text(x, 1447, label, linespacing=1.03, **body_kw)
page.text(535, 1433, 'JAK2', **body_kw)
page.text(548, 1461, 'p.R683G(0.51)', **body_kw)
page.text(750, 1433, 'male;', **body_kw)
page.text(755, 1461, '48,10+,X+', **body_kw)
page.text(74, 1534, footnote, fontsize=18.7, family=['Lato', 'DejaVu Sans'], ha='left', va='center')

page.set_xlim(0, W)
page.set_ylim(H, 0)
fig.savefig('out.png', dpi=100)
plt.close(fig)
